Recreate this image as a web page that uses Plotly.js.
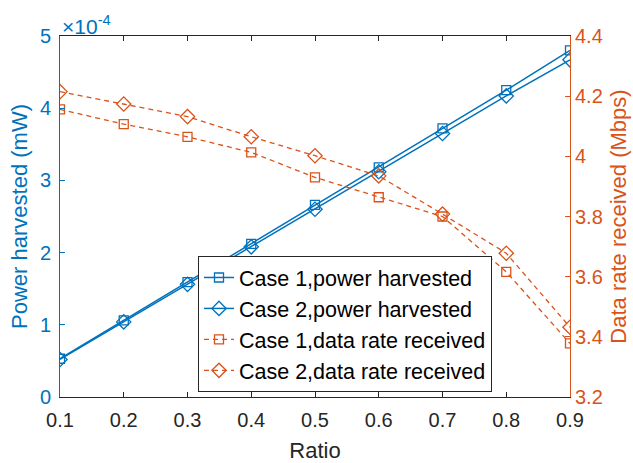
<!DOCTYPE html>
<html>
<head>
<meta charset="utf-8">
<script src="https://cdn.plot.ly/plotly-3.0.1.min.js"></script>
<style>html,body{margin:0;padding:0;background:#fff;}#chart{width:633px;height:463px;}</style>
</head>
<body>
<div id="chart"></div>
<script>
const ratio = [0.1, 0.2, 0.3, 0.4, 0.5, 0.6, 0.7, 0.8, 0.9];
const powerCase1 = [0.53e-4, 1.06e-4, 1.59e-4, 2.12e-4, 2.66e-4, 3.18e-4, 3.72e-4, 4.25e-4, 4.80e-4];
const powerCase2 = [0.52e-4, 1.04e-4, 1.56e-4, 2.08e-4, 2.60e-4, 3.12e-4, 3.65e-4, 4.17e-4, 4.67e-4];
const rateCase1 = [4.156, 4.107, 4.065, 4.013, 3.930, 3.864, 3.800, 3.616, 3.378];
const rateCase2 = [4.215, 4.174, 4.132, 4.065, 4.002, 3.935, 3.808, 3.678, 3.432];
const leftTickVals = [0, 1e-4, 2e-4, 3e-4, 4e-4, 5e-4];
const leftTickText = ['0', '1', '2', '3', '4', '5'];
const xTickVals = [0.1, 0.2, 0.3, 0.4, 0.5, 0.6, 0.7, 0.8, 0.9];
const xTickText = ['0.1', '0.2', '0.3', '0.4', '0.5', '0.6', '0.7', '0.8', '0.9'];
const rightTickVals = [3.2, 3.4, 3.6, 3.8, 4.0, 4.2, 4.4];
const rightTickText = ['3.2', '3.4', '3.6', '3.8', '4', '4.2', '4.4'];

const BLUE = '#0072BD', ORANGE = '#D95319', DARK = '#262626';
const FONT = 'Liberation Sans, Arial, Helvetica, sans-serif';

const traces = [
  {x: ratio, y: powerCase1, name: 'Case 1,power harvested', mode: 'lines+markers', yaxis: 'y',
   line: {color: BLUE, width: 1.5}, marker: {symbol: 'square-open', size: 9, color: BLUE, line: {width: 1.3}}},
  {x: ratio, y: powerCase2, name: 'Case 2,power harvested', mode: 'lines+markers', yaxis: 'y',
   line: {color: BLUE, width: 1.5}, marker: {symbol: 'diamond-open', size: 11, color: BLUE, line: {width: 1.3}}},
  {x: ratio, y: rateCase1, name: 'Case 1,data rate received', mode: 'lines+markers', yaxis: 'y2',
   line: {color: ORANGE, width: 1.3, dash: '5px,4px'}, marker: {symbol: 'square-open', size: 9, color: ORANGE, line: {width: 1.3}}},
  {x: ratio, y: rateCase2, name: 'Case 2,data rate received', mode: 'lines+markers', yaxis: 'y2',
   line: {color: ORANGE, width: 1.3, dash: '5px,4px'}, marker: {symbol: 'diamond-open', size: 11, color: ORANGE, line: {width: 1.3}}}
];

const layout = {
  width: 633, height: 463,
  margin: {l: 60, r: 63, t: 36, b: 66, autoexpand: false},
  paper_bgcolor: '#fff', plot_bgcolor: '#fff',
  font: {family: FONT, size: 20, color: DARK},
  showlegend: true,
  legend: {x: (198 - 60) / 510, y: 1 - (256 - 36) / 361, xref: 'paper', yref: 'paper', xanchor: 'left', yanchor: 'top',
           bgcolor: '#fff', bordercolor: DARK, borderwidth: 1, font: {size: 21.5, color: '#000'},
           tracegroupgap: 0, itemwidth: 30},
  xaxis: {range: [0.1, 0.9], tickvals: xTickVals, ticktext: xTickText, automargin: false,
          ticks: 'inside', ticklen: 5, tickcolor: DARK, showline: true, linecolor: DARK, linewidth: 1,
          mirror: 'ticks', showgrid: false, zeroline: false, tickfont: {size: 20, color: DARK}, ticklabelstandoff: 5,
          title: {text: 'Ratio', font: {size: 22, color: DARK}, standoff: 16}},
  yaxis: {range: [0, 5e-4], tickvals: leftTickVals, ticktext: leftTickText, automargin: false,
          ticks: 'inside', ticklen: 5, tickcolor: BLUE, showline: true, linecolor: BLUE, linewidth: 1,
          showgrid: false, zeroline: false, tickfont: {size: 20, color: BLUE}, ticklabelstandoff: 4,
          title: {text: 'Power harvested (mW)', font: {size: 22, color: BLUE}, standoff: 6}},
  yaxis2: {range: [3.2, 4.4], tickvals: rightTickVals, ticktext: rightTickText, overlaying: 'y', side: 'right', automargin: false,
           ticks: 'inside', ticklen: 5, tickcolor: ORANGE, showline: true, linecolor: ORANGE, linewidth: 1,
           showgrid: false, zeroline: false, tickfont: {size: 20, color: ORANGE},
           title: {text: 'Data rate received (Mbps)', font: {size: 22, color: ORANGE}, standoff: 8}},
  annotations: [{text: '×10<sup>-4</sup>', xref: 'paper', yref: 'paper', x: 0, y: 1, xanchor: 'left', yanchor: 'bottom',
                 showarrow: false, font: {size: 21, color: BLUE}, xshift: 0, yshift: -4}]
};

Plotly.newPlot('chart', traces, layout, {displayModeBar: false, staticPlot: true});
</script>
</body>
</html>
